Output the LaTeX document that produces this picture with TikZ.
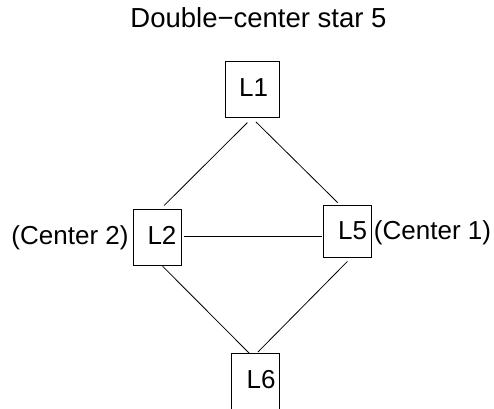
\documentclass[tikz,border=0pt]{standalone}
\usepackage{fontspec}
\setmainfont{Liberation Sans}
\begin{document}
\begin{tikzpicture}[x=1pt,y=-1pt,
  vbox/.style={draw=black, line width=0.9pt, inner sep=0pt},
  vlabel/.style={anchor=base, inner sep=0pt, font=\fontsize{26}{31}\selectfont},
  link/.style={draw=black, line width=0.8pt}]
\clip (0,0) rectangle (494,408);
\fill[white] (0,0) rectangle (494,408);

% title
\node[vlabel, font=\fontsize{27.5}{33}\selectfont] (title) at (258.5,27.5) {Double\char"2212 center star 5};

% layout points of the four vertices
\coordinate (v1) at (252,118);
\coordinate (v2) at (133,236.5);
\coordinate (v5) at (372,236.5);
\coordinate (v6) at (253,357);

% vertex boxes
\node[vbox, minimum width=54pt, minimum height=55.5pt] (b1) at (252.5,89.25) {};
\node[vbox, minimum width=48.4pt, minimum height=56pt] (b2) at (157.5,237.3) {};
\node[vbox, minimum width=48.4pt, minimum height=52.3pt] (b5) at (347.5,231.15) {};
\node[vbox, minimum width=47.6pt, minimum height=80pt] (b6) at (255.5,393.3) {};

% vertex names and side notes
\node[vlabel] (n1) at (253.5,96.7) {L1};
\node[vlabel] (n2) at (162,244.3) {L2};
\node[vlabel] (n5) at (352.5,239.3) {L5};
\node[vlabel] (n6) at (261,388.3) {L6};
\node[vlabel] (c2) at (70,244.3) {(Center 2)};
\node[vlabel] (c1) at (432.5,239.3) {(Center 1)};

% edges
\draw[link, shorten <=6.5pt, shorten >=44pt] (v1) -- (v2);
\draw[link, shorten <=5.5pt, shorten >=48pt] (v1) -- (v5);
\draw[link, shorten <=51pt, shorten >=50pt] (v2) -- (v5);
\draw[link, shorten <=42pt, shorten >=5.6pt] (v2) -- (v6);
\draw[link, shorten <=35pt, shorten >=7pt] (v5) -- (v6);
\end{tikzpicture}
\end{document}
